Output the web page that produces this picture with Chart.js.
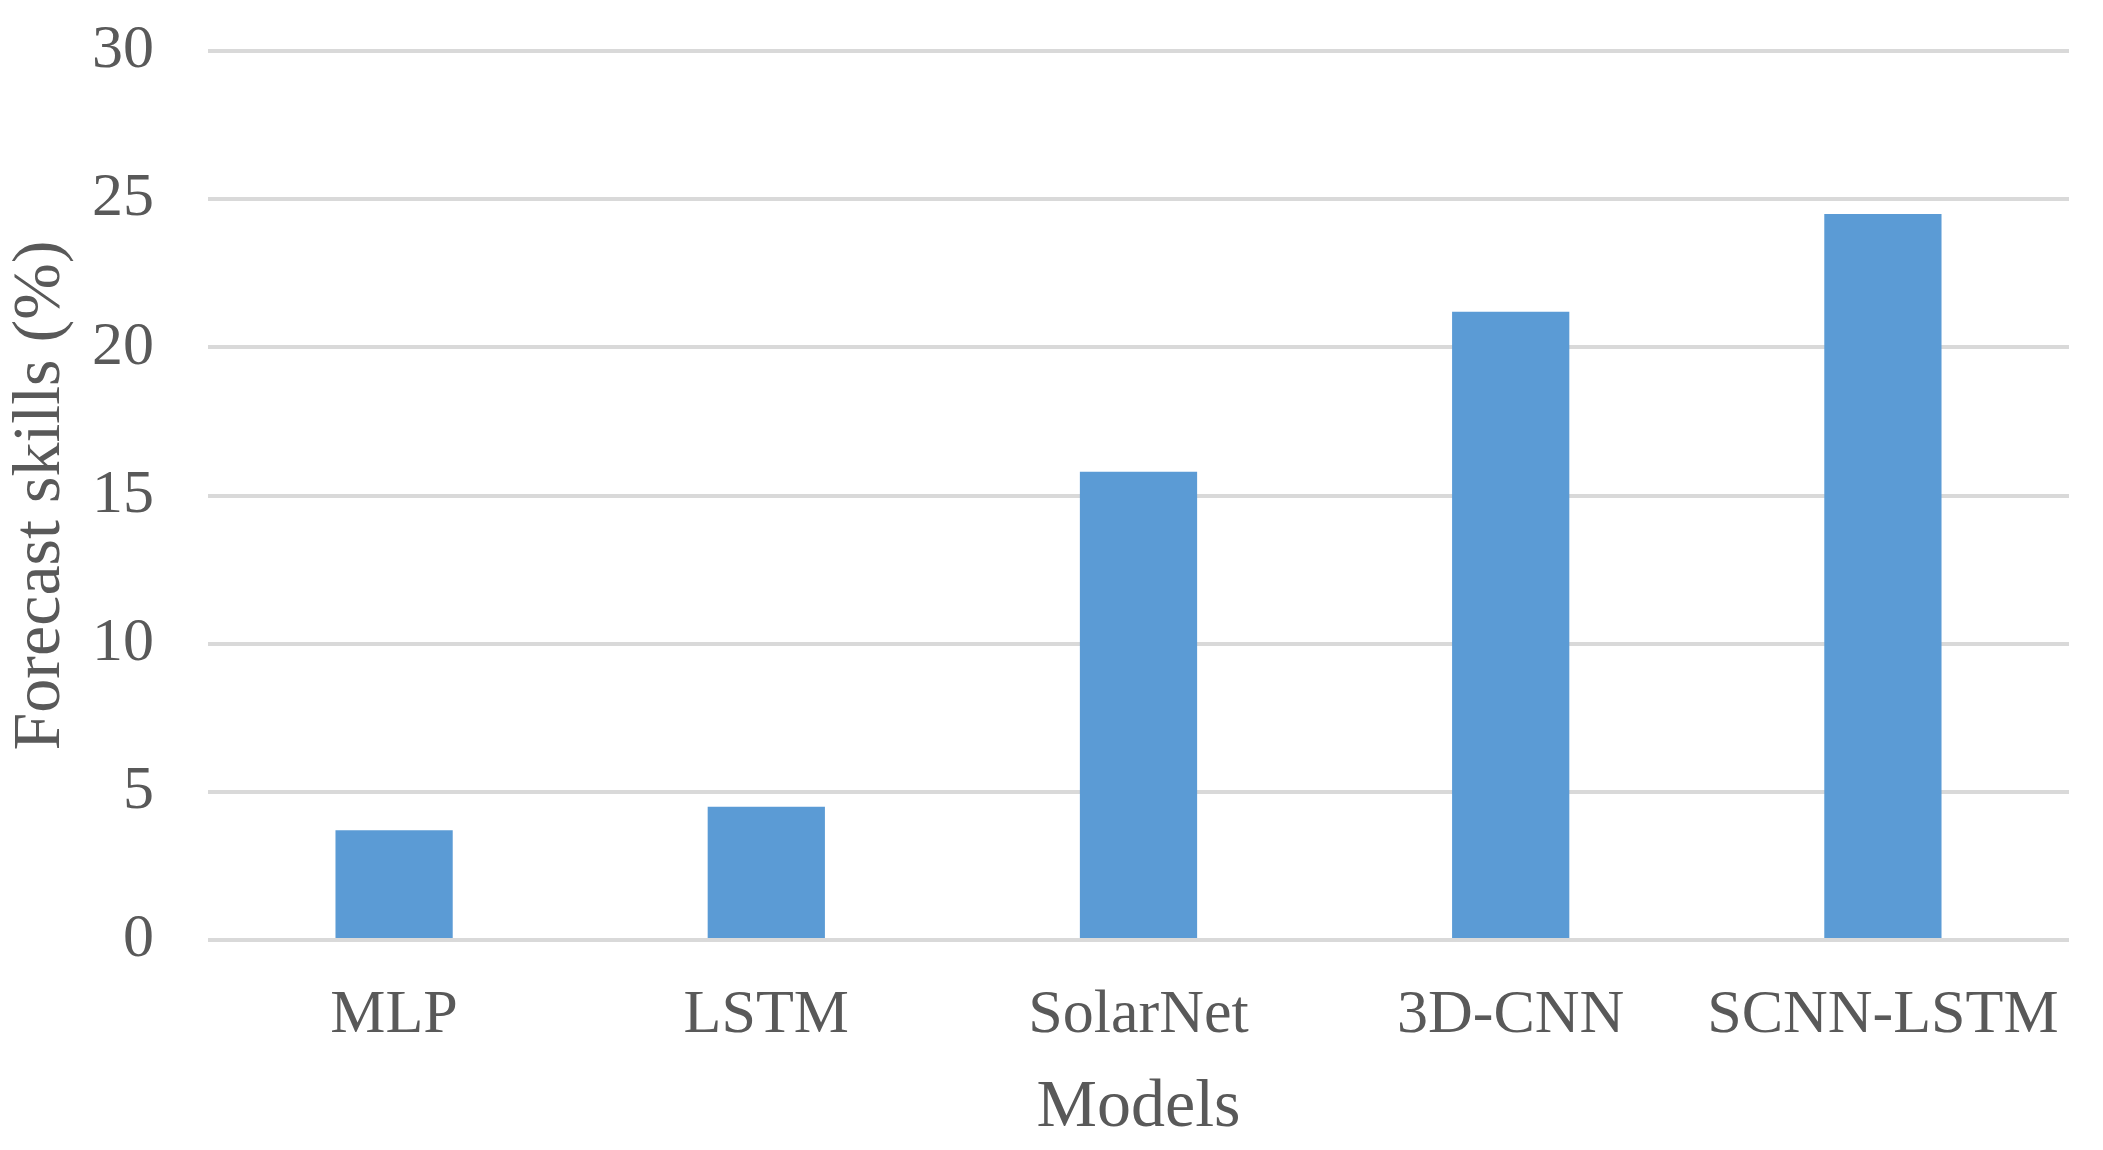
<!DOCTYPE html>
<html>
<head>
<meta charset="utf-8">
<script src="https://cdn.jsdelivr.net/npm/chart.js@4"></script>
<style>
  html, body { margin: 0; padding: 0; background: #ffffff; }
  #wrap { width: 2103px; height: 1150px; }
</style>
</head>
<body>
<div id="wrap"><canvas id="skillChart" width="2103" height="1150"></canvas></div>
<script>
// Forecast skill per model
const models = ['MLP', 'LSTM', 'SolarNet', '3D-CNN', 'SCNN-LSTM'];
const skillValues = [3.7, 4.5, 15.8, 21.2, 24.5];
const yTicks = [0, 5, 10, 15, 20, 25, 30];

const TEXT_COLOR = '#595959';
const GRID_COLOR = '#d9d9d9';
const BAR_COLOR = '#5b9bd5';
const FONT = 'Liberation Serif, Times New Roman, serif';

const ctx = document.getElementById('skillChart').getContext('2d');

new Chart(ctx, {
    type: 'bar',
    data: {
        labels: models,
        datasets: [{
            label: 'Forecast skills (%)',
            data: skillValues,
            backgroundColor: BAR_COLOR,
            borderWidth: 0,
            categoryPercentage: 1,
            barPercentage: 0.315,
        }]
    },
    options: {
        responsive: false,
        animation: false,
        devicePixelRatio: 1,
        layout: { padding: { top: 51, right: 34, left: 0, bottom: 0 } },
        plugins: { legend: { display: false }, tooltip: { enabled: false } },
        scales: {
            x: {
                afterFit: axis => { axis.height = 210; },
                grid: { display: false, drawTicks: false },
                border: { display: false },
                ticks: {
                    color: TEXT_COLOR,
                    font: { family: FONT, size: 62 },
                    padding: 39,
                    maxRotation: 0,
                    autoSkip: false,
                },
                title: {
                    display: true,
                    text: 'Models',
                    color: TEXT_COLOR,
                    font: { family: FONT, size: 68 },
                    padding: { top: 0, bottom: 1 },
                }
            },
            y: {
                min: 0,
                max: 30,
                afterBuildTicks: axis => { axis.ticks = yTicks.map(v => ({ value: v })); },
                afterFit: axis => { axis.width = 208; },
                // invisible tick marks give the gap between labels and plot
                grid: { color: GRID_COLOR, lineWidth: 4, drawTicks: true, tickLength: 54, tickColor: 'rgba(0,0,0,0)' },
                border: { display: false },
                ticks: {
                    color: TEXT_COLOR,
                    font: { family: FONT, size: 62 },
                    padding: 0,
                },
                title: {
                    display: true,
                    text: 'Forecast skills (%)',
                    color: TEXT_COLOR,
                    font: { family: FONT, size: 68 },
                    padding: { top: 0, bottom: 0 },
                }
            }
        }
    }
});
</script>
</body>
</html>
